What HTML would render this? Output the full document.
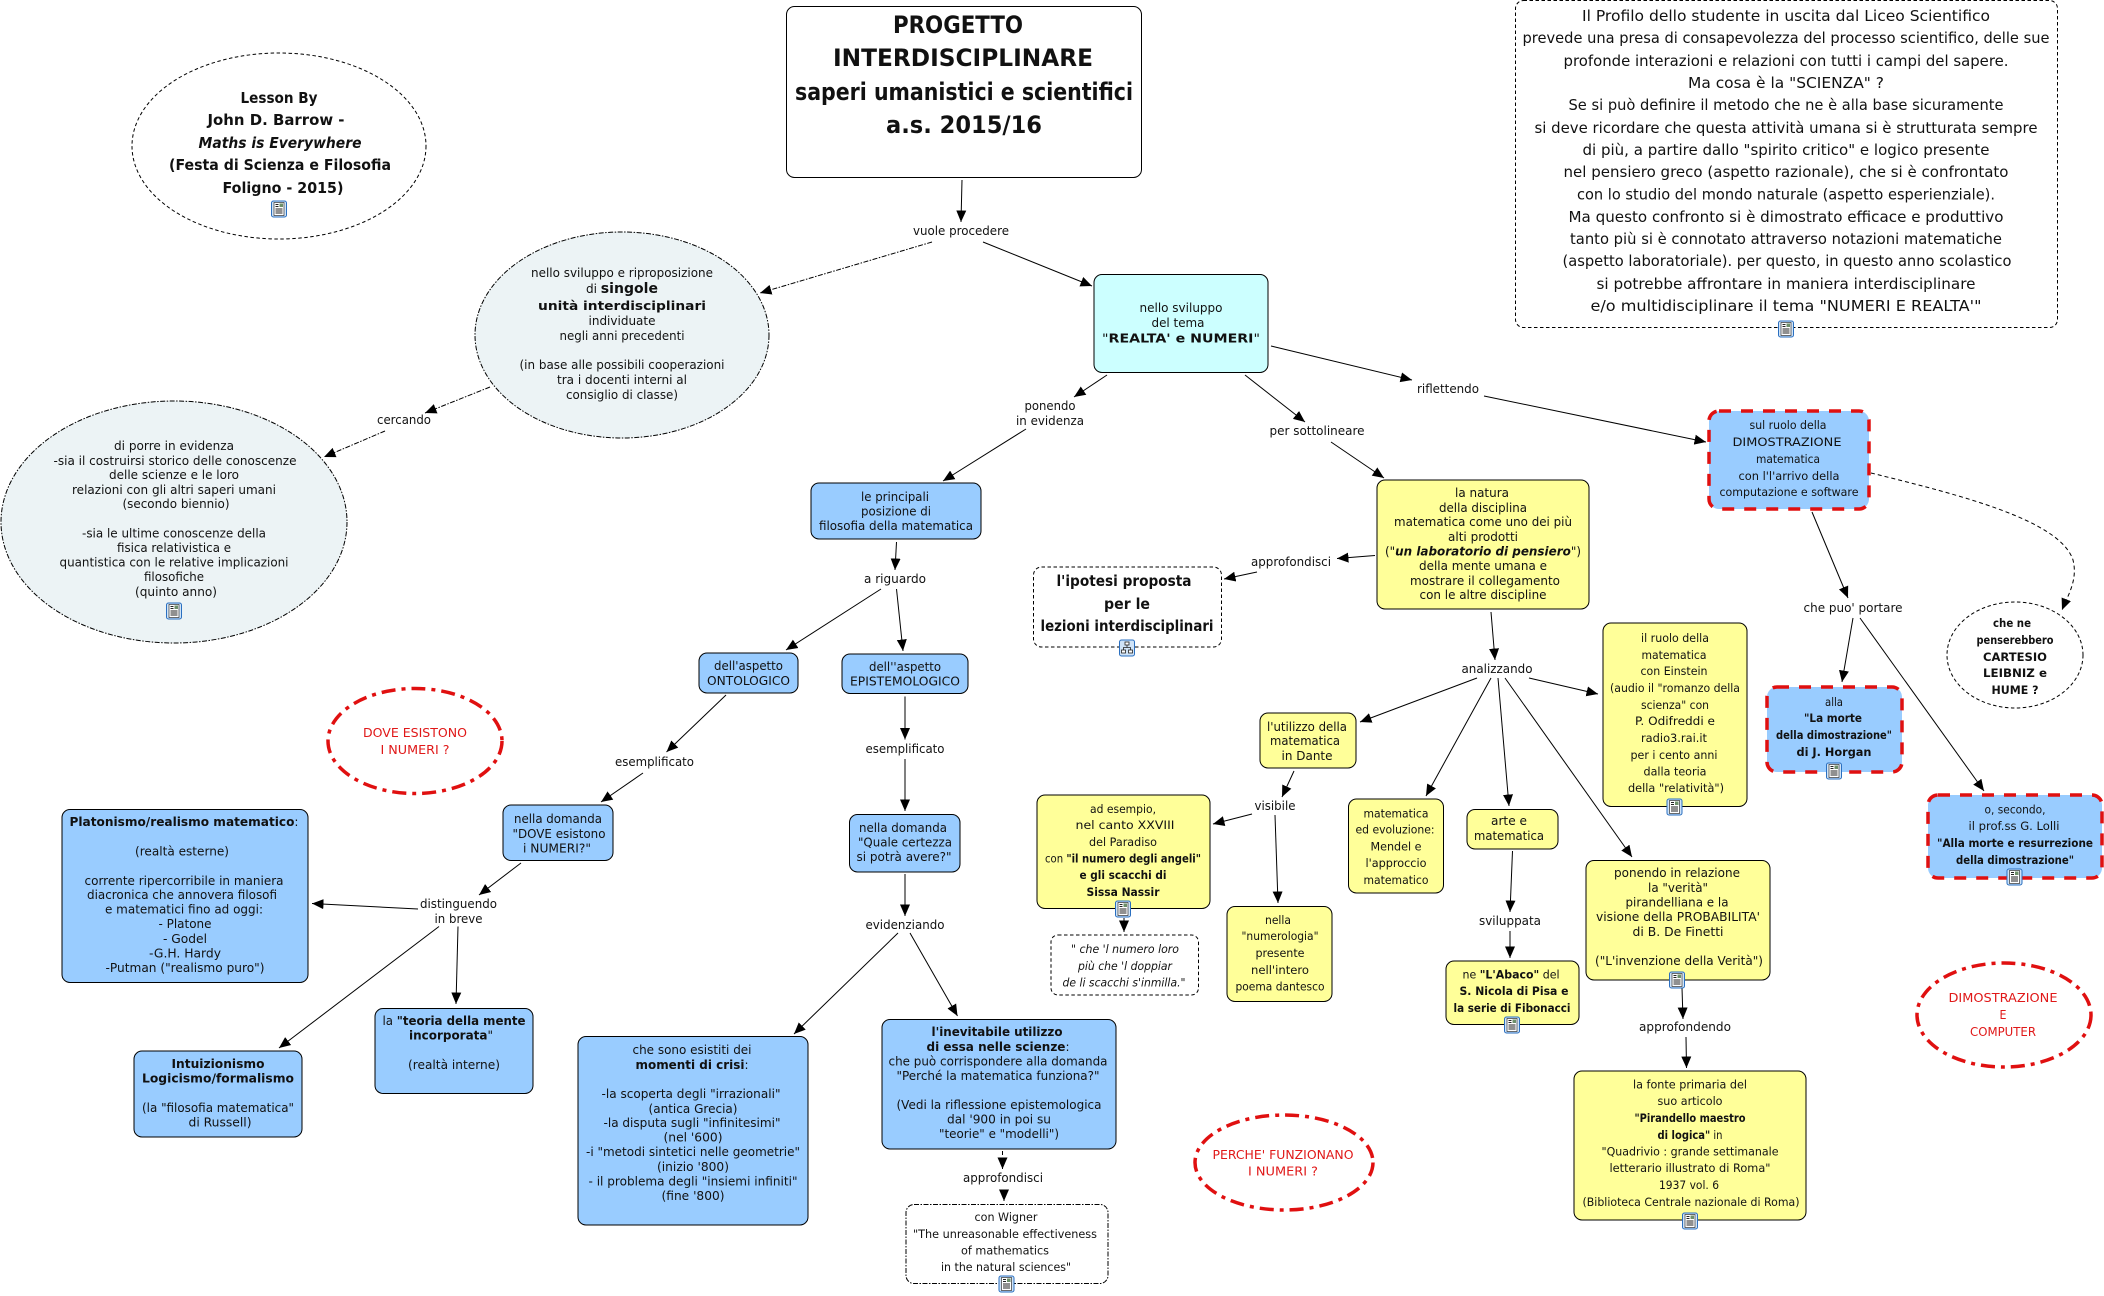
<!DOCTYPE html>
<html lang="it"><head><meta charset="utf-8"><title>Progetto interdisciplinare</title>
<style>
html,body{margin:0;padding:0;background:#fff}
svg{display:block}
text{font-family:"DejaVu Sans","Liberation Sans",sans-serif;text-anchor:middle;fill:#111;font-size:12px}
.n{font-size:15.5px}.t{font-size:24px;font-weight:bold}.l{font-size:15.5px;font-weight:bold}
.c{font-size:11.5px}
.r text,text.r{fill:#e01818;font-size:12px}
.b{font-weight:bold}
.box{stroke:#000;stroke-width:1}
.bl{fill:#99CCFF}.ye{fill:#FFFF99}.cy{fill:#CCFFFF}.wh{fill:#fff}
.dash{fill:#fff;stroke:#000;stroke-width:1;stroke-dasharray:3.5 2.5}
.dd{stroke:#000;stroke-width:1;stroke-dasharray:5 1.5 1.5 1.5}
.rd{stroke:#e01010;stroke-width:3.5;stroke-dasharray:12 10;fill:#99CCFF}
.ro{stroke:#e01010;stroke-width:3.5;stroke-dasharray:14 6 4 6;fill:#fff}
.a{stroke:#000;stroke-width:1;fill:none;marker-end:url(#m)}
.ad{stroke:#000;stroke-width:1;fill:none;marker-end:url(#m);stroke-dasharray:4 3}
.add{stroke:#000;stroke-width:1;fill:none;marker-end:url(#m);stroke-dasharray:5 1.5 1.5 1.5}
</style></head><body>
<svg xmlns="http://www.w3.org/2000/svg" width="2104" height="1296" viewBox="0 0 2104 1296">
<defs>
<marker id="m" markerUnits="userSpaceOnUse" markerWidth="12" markerHeight="12" viewBox="0 0 12 12" refX="11.500" refY="6" orient="auto"><path d="M0,1L11.500,6L0,11z" fill="#000"/></marker>
<g id="i"><rect x="1" y="0.5" width="15" height="16" rx="2" fill="#cfe3f7" stroke="#2a6fc0"/><rect x="3.5" y="2" width="10" height="13" fill="#fff" stroke="#333" stroke-width=".7"/><rect x="9" y="3" width="3.5" height="3.5" fill="#6d8f6a"/><path d="M5 4h3M5 6h3M5 8.500h7M5 10.500h7M5 12.500h7" stroke="#222" stroke-width=".9"/></g>
<g id="j"><rect x="1" y="0.5" width="15" height="16" rx="2" fill="#cfe3f7" stroke="#2a6fc0"/><rect x="6.500" y="2.500" width="4" height="3" fill="#fff" stroke="#222" stroke-width=".8"/><rect x="3" y="10.500" width="4" height="3" fill="#fff" stroke="#222" stroke-width=".8"/><rect x="10" y="10.500" width="4" height="3" fill="#fff" stroke="#222" stroke-width=".8"/><path d="M8.500 5.500V8M5 10.500V8H12V10.500" stroke="#222" stroke-width=".8" fill="none"/></g>
</defs>

<!-- connectors -->
<path class="a" d="M962 180L961 222"/>
<path class="a" d="M983 242L1092 286"/>
<path class="add" d="M932 242L760 293"/>
<path class="add" d="M490 387L425 413"/>
<path class="add" d="M385 431L324 457"/>
<path class="a" d="M1107 375L1074 397"/>
<path class="a" d="M1026 429L943 481"/>
<path class="a" d="M1245 375L1305 422"/>
<path class="a" d="M1331 442L1384 478"/>
<path class="a" d="M1271 346L1412 380"/>
<path class="a" d="M1484 396L1706 442"/>
<path class="a" d="M1375 555.500L1337 558.500"/>
<path class="a" d="M1257 572L1224 579"/>
<path class="a" d="M1491 612L1495 660"/>
<path class="a" d="M1477 678L1360 722"/>
<path class="a" d="M1491 678L1426 796"/>
<path class="a" d="M1498 678L1509 806"/>
<path class="a" d="M1505 678L1632 857"/>
<path class="a" d="M1529 678L1598 694"/>
<path class="a" d="M1294 771L1282 797"/>
<path class="a" d="M1252 814L1213 824"/>
<path class="a" d="M1275 815L1278 903"/>
<path class="a" d="M1124 918L1124 932"/>
<path class="a" d="M1512.500 851L1510 912"/>
<path class="a" d="M1510 931L1510 958"/>
<path class="a" d="M1682 988L1683 1019"/>
<path class="a" d="M1686 1037L1686.500 1068"/>
<path class="a" d="M1812 512L1848 598"/>
<path class="a" d="M1853 618L1842 682"/>
<path class="a" d="M1860 618L1984 791"/>
<path class="ad" d="M1871 473C1960 495 2060 520 2073 560C2078 580 2068 595 2062 610"/>
<path class="a" d="M896.500 542L895 570"/>
<path class="a" d="M881 589L786 650"/>
<path class="a" d="M896.500 589L903 651"/>
<path class="a" d="M726 695L666.500 752"/>
<path class="a" d="M643 773L601 802"/>
<path class="a" d="M905 696.500L905 739.500"/>
<path class="a" d="M905 759L905 811"/>
<path class="a" d="M521 863L479 895"/>
<path class="a" d="M418 909L312 903.500"/>
<path class="a" d="M439 926.500L279 1048"/>
<path class="a" d="M458 926.500L456 1004"/>
<path class="a" d="M905 874L905 916"/>
<path class="a" d="M898 933L794 1034"/>
<path class="a" d="M910 933L957.500 1016"/>
<path class="ad" d="M1002.500 1151L1002.500 1169"/>
<path class="a" d="M1004 1190L1004 1201"/>

<!-- shapes -->
<rect class="box wh" x="786.500" y="6.500" width="355" height="171" rx="8"/>
<ellipse class="dash" cx="279" cy="146" rx="147" ry="93"/>
<ellipse class="dd" fill="#ECF3F5" cx="622" cy="335" rx="147" ry="103"/>
<ellipse class="dd" fill="#ECF3F5" cx="174" cy="522" rx="173" ry="121"/>
<rect class="box cy" x="1094" y="274.500" width="174" height="98" rx="8"/>
<rect class="dash" x="1515.500" y="0.500" width="542" height="327" rx="8"/>
<rect class="box ye" x="1377" y="480" width="212" height="129" rx="8"/>
<rect class="dash" x="1033.500" y="567" width="188" height="80" rx="8"/>
<rect class="box ye" x="1603" y="623" width="144" height="183.500" rx="8"/>
<rect class="box ye" x="1260" y="713" width="96" height="55" rx="8"/>
<rect class="box ye" x="1037" y="795" width="173" height="113.500" rx="8"/>
<rect class="dash" x="1051" y="935" width="147.500" height="60" rx="7"/>
<rect class="box ye" x="1227" y="906.500" width="105" height="95" rx="8"/>
<rect class="box ye" x="1348.500" y="799" width="95" height="94" rx="8"/>
<rect class="box ye" x="1467" y="809.500" width="91" height="39.500" rx="8"/>
<rect class="box ye" x="1446" y="961" width="133" height="63.500" rx="8"/>
<rect class="box ye" x="1586" y="860.500" width="184" height="119.500" rx="8"/>
<rect class="box ye" x="1574" y="1071" width="232" height="149" rx="8"/>
<rect class="rd" x="1709" y="411" width="160" height="98" rx="10"/>
<ellipse class="dash" cx="2015" cy="655" rx="68" ry="53"/>
<rect class="rd" x="1767" y="687" width="135" height="85" rx="10"/>
<rect class="rd" x="1928" y="795" width="174" height="83" rx="10"/>
<ellipse class="ro" cx="2004" cy="1015" rx="87" ry="52"/>
<ellipse class="ro" cx="1284" cy="1162.500" rx="89" ry="47.500"/>
<ellipse class="ro" cx="415" cy="741" rx="87" ry="52.500"/>
<rect class="box bl" x="811" y="483" width="170" height="56" rx="8"/>
<rect class="box bl" x="699" y="653" width="99" height="40" rx="8"/>
<rect class="box bl" x="842" y="654" width="126" height="39.500" rx="8"/>
<rect class="box bl" x="503" y="805" width="110" height="55.500" rx="8"/>
<rect class="box bl" x="62" y="809.500" width="246" height="173" rx="8"/>
<rect class="box bl" x="134" y="1051" width="168" height="86" rx="8"/>
<rect class="box bl" x="375" y="1008.500" width="158" height="85" rx="8"/>
<rect class="box bl" x="849.500" y="814.500" width="110.500" height="57.500" rx="8"/>
<rect class="box bl" x="578" y="1036.500" width="230" height="188.500" rx="8"/>
<rect class="box bl" x="882" y="1019.500" width="234" height="129.500" rx="8"/>
<rect class="dd" fill="#fff" x="906" y="1204.500" width="202" height="79" rx="8"/>

<!-- title -->
<g class="t">
<text class="t" x="958" y="33" textLength="130" lengthAdjust="spacingAndGlyphs">PROGETTO</text>
<text class="t" x="963" y="66" textLength="260" lengthAdjust="spacingAndGlyphs">INTERDISCIPLINARE</text>
<text class="t" x="964" y="100" textLength="338" lengthAdjust="spacingAndGlyphs">saperi umanistici e scientifici</text>
<text class="t" x="964" y="133" textLength="156" lengthAdjust="spacingAndGlyphs">a.s. 2015/16</text>
</g>

<!-- Lesson -->
<text class="l" x="279" y="103" textLength="77" lengthAdjust="spacingAndGlyphs">Lesson By</text>
<text class="l" x="276" y="125" textLength="137" lengthAdjust="spacingAndGlyphs">John D. Barrow -</text>
<text class="l" x="280" y="148" textLength="163" lengthAdjust="spacingAndGlyphs" font-style="italic">Maths is Everywhere</text>
<text class="l" x="280" y="170" textLength="222" lengthAdjust="spacingAndGlyphs">(Festa di Scienza e Filosofia</text>
<text class="l" x="283" y="193" textLength="121" lengthAdjust="spacingAndGlyphs">Foligno - 2015)</text>

<!-- circle 2 -->
<text x="622" y="277" textLength="182" lengthAdjust="spacingAndGlyphs">nello sviluppo e riproposizione</text>
<text x="622" y="293" textLength="72" lengthAdjust="spacingAndGlyphs">di <tspan class="b" font-size="14">singole</tspan></text>
<text class="b" x="622" y="310" textLength="168" lengthAdjust="spacingAndGlyphs" font-size="14">unità interdisciplinari</text>
<text x="622" y="325" textLength="67" lengthAdjust="spacingAndGlyphs">individuate</text>
<text x="622" y="340" textLength="125" lengthAdjust="spacingAndGlyphs">negli anni precedenti</text>
<text x="622" y="369" textLength="205" lengthAdjust="spacingAndGlyphs">(in base alle possibili cooperazioni</text>
<text x="622" y="384" textLength="130" lengthAdjust="spacingAndGlyphs">tra i docenti interni al</text>
<text x="622" y="399" textLength="112" lengthAdjust="spacingAndGlyphs">consiglio di classe)</text>

<!-- circle 3 -->
<text x="174" y="450" textLength="120" lengthAdjust="spacingAndGlyphs">di porre in evidenza</text>
<text x="175" y="465" textLength="243" lengthAdjust="spacingAndGlyphs">-sia il costruirsi storico delle conoscenze</text>
<text x="174" y="479" textLength="130" lengthAdjust="spacingAndGlyphs">delle scienze e le loro</text>
<text x="174" y="494" textLength="204" lengthAdjust="spacingAndGlyphs">relazioni con gli altri saperi umani</text>
<text x="176" y="508" textLength="107" lengthAdjust="spacingAndGlyphs">(secondo biennio)</text>
<text x="174" y="537.500" textLength="184" lengthAdjust="spacingAndGlyphs">-sia le ultime conoscenze della</text>
<text x="174" y="552" textLength="114" lengthAdjust="spacingAndGlyphs">fisica relativistica e</text>
<text x="174" y="566.500" textLength="229" lengthAdjust="spacingAndGlyphs">quantistica con le relative implicazioni</text>
<text x="174" y="581" textLength="60" lengthAdjust="spacingAndGlyphs">filosofiche</text>
<text x="176" y="596" textLength="82" lengthAdjust="spacingAndGlyphs">(quinto anno)</text>

<!-- linking labels -->
<text x="404" y="424" textLength="54" lengthAdjust="spacingAndGlyphs">cercando</text>
<text x="961" y="235" textLength="96" lengthAdjust="spacingAndGlyphs">vuole procedere</text>
<text x="1050" y="410" textLength="51" lengthAdjust="spacingAndGlyphs">ponendo</text>
<text x="1050" y="425" textLength="68" lengthAdjust="spacingAndGlyphs">in evidenza</text>
<text x="1317" y="435" textLength="95" lengthAdjust="spacingAndGlyphs">per sottolineare</text>
<text x="1448" y="393" textLength="62" lengthAdjust="spacingAndGlyphs">riflettendo</text>
<text x="1291" y="566" textLength="80" lengthAdjust="spacingAndGlyphs">approfondisci</text>
<text x="1497" y="673" textLength="71" lengthAdjust="spacingAndGlyphs">analizzando</text>
<text x="1275" y="810" textLength="41" lengthAdjust="spacingAndGlyphs">visibile</text>
<text x="1510" y="925" textLength="62" lengthAdjust="spacingAndGlyphs">sviluppata</text>
<text x="1685" y="1031" textLength="92" lengthAdjust="spacingAndGlyphs">approfondendo</text>
<text x="1853" y="612" textLength="99" lengthAdjust="spacingAndGlyphs">che puo' portare</text>
<text x="895" y="583" textLength="62" lengthAdjust="spacingAndGlyphs">a riguardo</text>
<text x="654.500" y="766" textLength="79" lengthAdjust="spacingAndGlyphs">esemplificato</text>
<text x="905" y="753" textLength="79" lengthAdjust="spacingAndGlyphs">esemplificato</text>
<text x="458.500" y="908" textLength="77" lengthAdjust="spacingAndGlyphs">distinguendo</text>
<text x="458.500" y="923" textLength="48" lengthAdjust="spacingAndGlyphs">in breve</text>
<text x="905" y="929" textLength="79" lengthAdjust="spacingAndGlyphs">evidenziando</text>
<text x="1003" y="1182" textLength="80" lengthAdjust="spacingAndGlyphs">approfondisci</text>

<!-- REALTA -->
<text x="1181" y="312" textLength="83" lengthAdjust="spacingAndGlyphs">nello sviluppo</text>
<text x="1178" y="327" textLength="53" lengthAdjust="spacingAndGlyphs">del tema</text>
<text x="1181" y="342.500" textLength="158" lengthAdjust="spacingAndGlyphs" font-size="13">"<tspan class="b">REALTA' e NUMERI</tspan>"</text>

<!-- note -->
<g class="n">
<text class="n" x="1786" y="21" textLength="408" lengthAdjust="spacingAndGlyphs">Il Profilo dello studente  in uscita dal Liceo Scientifico</text>
<text class="n" x="1786" y="43" textLength="527" lengthAdjust="spacingAndGlyphs">prevede una presa di consapevolezza del processo scientifico, delle sue</text>
<text class="n" x="1786" y="66" textLength="445" lengthAdjust="spacingAndGlyphs">profonde interazioni e relazioni con tutti i campi del sapere.</text>
<text class="n" x="1786" y="88" textLength="196" lengthAdjust="spacingAndGlyphs">Ma cosa è la "SCIENZA" ?</text>
<text class="n" x="1786" y="110" textLength="435" lengthAdjust="spacingAndGlyphs">Se si può definire il metodo che ne è alla base sicuramente</text>
<text class="n" x="1786" y="133" textLength="503" lengthAdjust="spacingAndGlyphs">si deve ricordare che questa attività umana si è strutturata sempre</text>
<text class="n" x="1786" y="155" textLength="407" lengthAdjust="spacingAndGlyphs">di più, a partire dallo "spirito critico" e logico presente</text>
<text class="n" x="1786" y="177" textLength="445" lengthAdjust="spacingAndGlyphs">nel pensiero greco (aspetto razionale),  che si è confrontato</text>
<text class="n" x="1786" y="199.500" textLength="418" lengthAdjust="spacingAndGlyphs">con lo studio del mondo naturale (aspetto esperienziale).</text>
<text class="n" x="1786" y="222" textLength="435" lengthAdjust="spacingAndGlyphs">Ma questo confronto si è dimostrato efficace e produttivo</text>
<text class="n" x="1786" y="244" textLength="432" lengthAdjust="spacingAndGlyphs">tanto più si è connotato attraverso notazioni matematiche</text>
<text class="n" x="1787" y="266" textLength="449" lengthAdjust="spacingAndGlyphs">(aspetto laboratoriale). per questo, in questo anno scolastico</text>
<text class="n" x="1786" y="289" textLength="379" lengthAdjust="spacingAndGlyphs">si potrebbe affrontare in maniera interdisciplinare</text>
<text class="n" x="1786" y="311" textLength="391" lengthAdjust="spacingAndGlyphs">e/o multidisciplinare il tema   "NUMERI E REALTA'"</text>
</g>

<!-- natura -->
<text x="1482" y="497" textLength="54" lengthAdjust="spacingAndGlyphs">la natura</text>
<text x="1483" y="512" textLength="88" lengthAdjust="spacingAndGlyphs">della disciplina</text>
<text x="1483" y="526" textLength="178" lengthAdjust="spacingAndGlyphs">matematica come uno dei più</text>
<text x="1483" y="541" textLength="70" lengthAdjust="spacingAndGlyphs">alti prodotti</text>
<text x="1483" y="555.500" textLength="196" lengthAdjust="spacingAndGlyphs">("<tspan class="b" font-style="italic">un laboratorio di pensiero</tspan>")</text>
<text x="1483" y="570" textLength="128" lengthAdjust="spacingAndGlyphs">della mente umana e</text>
<text x="1485" y="585" textLength="150" lengthAdjust="spacingAndGlyphs">mostrare il collegamento</text>
<text x="1483" y="599" textLength="127" lengthAdjust="spacingAndGlyphs">con le altre discipline</text>

<!-- ipotesi -->
<text class="l" x="1124" y="586" textLength="135" lengthAdjust="spacingAndGlyphs">l'ipotesi proposta</text>
<text class="l" x="1127" y="609" textLength="46" lengthAdjust="spacingAndGlyphs">per le</text>
<text class="l" x="1127" y="631" textLength="173" lengthAdjust="spacingAndGlyphs">lezioni interdisciplinari</text>

<!-- il ruolo -->
<g>
<text class="c" x="1675" y="642" textLength="68" lengthAdjust="spacingAndGlyphs">il ruolo della</text>
<text class="c" x="1674" y="659" textLength="65" lengthAdjust="spacingAndGlyphs">matematica</text>
<text class="c" x="1674" y="675" textLength="67" lengthAdjust="spacingAndGlyphs">con Einstein</text>
<text class="c" x="1675" y="692" textLength="130" lengthAdjust="spacingAndGlyphs">(audio il "romanzo della</text>
<text class="c" x="1675" y="709" textLength="68" lengthAdjust="spacingAndGlyphs">scienza" con</text>
<text class="c" x="1675" y="725" textLength="80" lengthAdjust="spacingAndGlyphs">P. Odifreddi e</text>
<text class="c" x="1674" y="742" textLength="66" lengthAdjust="spacingAndGlyphs">radio3.rai.it</text>
<text class="c" x="1674" y="759" textLength="87" lengthAdjust="spacingAndGlyphs">per i cento anni</text>
<text class="c" x="1675" y="775.500" textLength="63" lengthAdjust="spacingAndGlyphs">dalla teoria</text>
<text class="c" x="1676" y="792" textLength="96" lengthAdjust="spacingAndGlyphs">della "relatività")</text>
</g>

<!-- Dante -->
<text x="1307" y="731" textLength="80" lengthAdjust="spacingAndGlyphs">l'utilizzo della</text>
<text x="1305" y="745" textLength="70" lengthAdjust="spacingAndGlyphs">matematica</text>
<text x="1307" y="760" textLength="51" lengthAdjust="spacingAndGlyphs">in Dante</text>

<!-- ad esempio -->
<text class="c" x="1123" y="813" textLength="66" lengthAdjust="spacingAndGlyphs">ad esempio,</text>
<text class="c" x="1125" y="829" textLength="99" lengthAdjust="spacingAndGlyphs">nel canto XXVIII</text>
<text class="c" x="1123" y="846" textLength="68" lengthAdjust="spacingAndGlyphs">del Paradiso</text>
<text class="c" x="1123" y="862.500" textLength="156" lengthAdjust="spacingAndGlyphs">con <tspan class="b">"il numero degli angeli"</tspan></text>
<text class="c b" x="1123" y="879" textLength="87" lengthAdjust="spacingAndGlyphs">e gli scacchi di</text>
<text class="c b" x="1123" y="896" textLength="73" lengthAdjust="spacingAndGlyphs">Sissa Nassir</text>

<!-- che l numero -->
<text class="c" x="1125" y="953" textLength="108" lengthAdjust="spacingAndGlyphs" font-style="italic">" che 'l numero loro</text>
<text class="c" x="1125" y="970" textLength="94" lengthAdjust="spacingAndGlyphs" font-style="italic">più che 'l doppiar</text>
<text class="c" x="1124" y="986.500" textLength="123" lengthAdjust="spacingAndGlyphs" font-style="italic">de li scacchi s'inmilla."</text>

<!-- numerologia -->
<text class="c" x="1278" y="924" textLength="26" lengthAdjust="spacingAndGlyphs">nella</text>
<text class="c" x="1280" y="940" textLength="77" lengthAdjust="spacingAndGlyphs">"numerologia"</text>
<text class="c" x="1280" y="957" textLength="49" lengthAdjust="spacingAndGlyphs">presente</text>
<text class="c" x="1280" y="974" textLength="58" lengthAdjust="spacingAndGlyphs">nell'intero</text>
<text class="c" x="1280" y="990.500" textLength="89" lengthAdjust="spacingAndGlyphs">poema dantesco</text>

<!-- matematica ed -->
<text class="c" x="1396" y="817.500" textLength="65" lengthAdjust="spacingAndGlyphs">matematica</text>
<text class="c" x="1395" y="833.500" textLength="79" lengthAdjust="spacingAndGlyphs">ed evoluzione:</text>
<text class="c" x="1396" y="850.500" textLength="51" lengthAdjust="spacingAndGlyphs">Mendel e</text>
<text class="c" x="1396" y="867" textLength="61" lengthAdjust="spacingAndGlyphs">l'approccio</text>
<text class="c" x="1396" y="884" textLength="65" lengthAdjust="spacingAndGlyphs">matematico</text>

<!-- arte -->
<text x="1509" y="825" textLength="36" lengthAdjust="spacingAndGlyphs">arte e</text>
<text x="1509" y="840" textLength="70" lengthAdjust="spacingAndGlyphs">matematica</text>

<!-- abaco -->
<text class="c" x="1511" y="978.500" textLength="97" lengthAdjust="spacingAndGlyphs">ne <tspan class="b">"L'Abaco"</tspan> del</text>
<text class="c b" x="1514" y="995" textLength="109" lengthAdjust="spacingAndGlyphs">S. Nicola di Pisa e</text>
<text class="c b" x="1512" y="1012" textLength="117" lengthAdjust="spacingAndGlyphs">la serie di Fibonacci</text>

<!-- ponendo -->
<text x="1677" y="877" textLength="126" lengthAdjust="spacingAndGlyphs">ponendo in relazione</text>
<text x="1678" y="892" textLength="60" lengthAdjust="spacingAndGlyphs">la "verità"</text>
<text x="1677" y="906.500" textLength="103" lengthAdjust="spacingAndGlyphs">pirandelliana e la</text>
<text x="1678" y="921" textLength="164" lengthAdjust="spacingAndGlyphs">visione della PROBABILITA'</text>
<text x="1678" y="936" textLength="91" lengthAdjust="spacingAndGlyphs">di B. De Finetti</text>
<text x="1679" y="965" textLength="168" lengthAdjust="spacingAndGlyphs">("L'invenzione della Verità")</text>

<!-- fonte -->
<text class="c" x="1690" y="1088.500" textLength="114" lengthAdjust="spacingAndGlyphs">la fonte primaria del</text>
<text class="c" x="1690" y="1105" textLength="65" lengthAdjust="spacingAndGlyphs">suo articolo</text>
<text class="c b" x="1690" y="1122" textLength="111" lengthAdjust="spacingAndGlyphs">"Pirandello maestro</text>
<text class="c" x="1690" y="1139" textLength="65" lengthAdjust="spacingAndGlyphs"><tspan class="b">di logica"</tspan> in</text>
<text class="c" x="1690" y="1155.500" textLength="177" lengthAdjust="spacingAndGlyphs">"Quadrivio : grande settimanale</text>
<text class="c" x="1690" y="1172" textLength="161" lengthAdjust="spacingAndGlyphs">letterario illustrato di Roma"</text>
<text class="c" x="1689" y="1189" textLength="60" lengthAdjust="spacingAndGlyphs">1937 vol. 6</text>
<text class="c" x="1691" y="1206" textLength="217" lengthAdjust="spacingAndGlyphs">(Biblioteca Centrale nazionale di Roma)</text>

<!-- dimostrazione -->
<text class="c" x="1788" y="429" textLength="77" lengthAdjust="spacingAndGlyphs">sul ruolo della</text>
<text class="c" x="1787" y="446" textLength="109" lengthAdjust="spacingAndGlyphs">DIMOSTRAZIONE</text>
<text class="c" x="1788" y="463" textLength="64" lengthAdjust="spacingAndGlyphs">matematica</text>
<text class="c" x="1789" y="480" textLength="101" lengthAdjust="spacingAndGlyphs">con l'l'arrivo della</text>
<text class="c" x="1789" y="496" textLength="139" lengthAdjust="spacingAndGlyphs">computazione e software</text>

<!-- che ne -->
<text class="c b" x="2012" y="627" textLength="38" lengthAdjust="spacingAndGlyphs">che ne</text>
<text class="c b" x="2015" y="644" textLength="77" lengthAdjust="spacingAndGlyphs">penserebbero</text>
<text class="c b" x="2015" y="661" textLength="64" lengthAdjust="spacingAndGlyphs">CARTESIO</text>
<text class="c b" x="2015" y="677" textLength="64" lengthAdjust="spacingAndGlyphs">LEIBNIZ e</text>
<text class="c b" x="2015" y="694" textLength="47" lengthAdjust="spacingAndGlyphs">HUME ?</text>

<!-- alla -->
<text class="c" x="1834" y="706" textLength="18" lengthAdjust="spacingAndGlyphs">alla</text>
<text class="c b" x="1833" y="722" textLength="58" lengthAdjust="spacingAndGlyphs">"La morte</text>
<text class="c b" x="1834" y="739" textLength="116" lengthAdjust="spacingAndGlyphs">della dimostrazione"</text>
<text class="c b" x="1834" y="756" textLength="75" lengthAdjust="spacingAndGlyphs">di J. Horgan</text>

<!-- secondo -->
<text class="c" x="2015" y="813.500" textLength="61" lengthAdjust="spacingAndGlyphs">o, secondo,</text>
<text class="c" x="2014" y="830" textLength="91" lengthAdjust="spacingAndGlyphs">il prof.ss G. Lolli</text>
<text class="c b" x="2015" y="847" textLength="156" lengthAdjust="spacingAndGlyphs">"Alla morte e resurrezione</text>
<text class="c b" x="2015" y="864" textLength="118" lengthAdjust="spacingAndGlyphs">della dimostrazione"</text>

<!-- red ovals -->
<text class="r" x="2003" y="1002" textLength="109" lengthAdjust="spacingAndGlyphs">DIMOSTRAZIONE</text>
<text class="r" x="2003" y="1019" textLength="7" lengthAdjust="spacingAndGlyphs">E</text>
<text class="r" x="2003" y="1036" textLength="66" lengthAdjust="spacingAndGlyphs">COMPUTER</text>
<text class="r" x="1283" y="1159" textLength="141" lengthAdjust="spacingAndGlyphs">PERCHE' FUNZIONANO</text>
<text class="r" x="1283" y="1175.500" textLength="70" lengthAdjust="spacingAndGlyphs">I NUMERI ?</text>
<text class="r" x="415" y="737" textLength="104" lengthAdjust="spacingAndGlyphs">DOVE ESISTONO</text>
<text class="r" x="415" y="754" textLength="69" lengthAdjust="spacingAndGlyphs">I NUMERI ?</text>

<!-- le principali -->
<text x="895" y="501" textLength="68" lengthAdjust="spacingAndGlyphs">le principali</text>
<text x="896" y="515.500" textLength="70" lengthAdjust="spacingAndGlyphs">posizione di</text>
<text x="896" y="530" textLength="154" lengthAdjust="spacingAndGlyphs">filosofia della matematica</text>

<text x="748.500" y="670" textLength="69" lengthAdjust="spacingAndGlyphs">dell'aspetto</text>
<text x="748.500" y="685" textLength="83" lengthAdjust="spacingAndGlyphs">ONTOLOGICO</text>
<text x="905" y="671" textLength="72" lengthAdjust="spacingAndGlyphs">dell''aspetto</text>
<text x="905" y="685.500" textLength="110" lengthAdjust="spacingAndGlyphs">EPISTEMOLOGICO</text>

<text x="558" y="823" textLength="88" lengthAdjust="spacingAndGlyphs">nella domanda</text>
<text x="559" y="838" textLength="93" lengthAdjust="spacingAndGlyphs">"DOVE esistono</text>
<text x="557" y="852.500" textLength="68" lengthAdjust="spacingAndGlyphs">i NUMERI?"</text>

<text class="b" x="184" y="826" textLength="229" lengthAdjust="spacingAndGlyphs">Platonismo/realismo matematico<tspan font-weight="normal">:</tspan></text>
<text x="182" y="855.500" textLength="94" lengthAdjust="spacingAndGlyphs">(realtà esterne)</text>
<text x="184" y="885" textLength="199" lengthAdjust="spacingAndGlyphs">corrente ripercorribile in maniera</text>
<text x="182" y="899" textLength="190" lengthAdjust="spacingAndGlyphs">diacronica che annovera filosofi</text>
<text x="184" y="913.500" textLength="158" lengthAdjust="spacingAndGlyphs">e matematici fino ad oggi:</text>
<text x="185" y="928" textLength="53" lengthAdjust="spacingAndGlyphs">- Platone</text>
<text x="185" y="943" textLength="44" lengthAdjust="spacingAndGlyphs">- Godel</text>
<text x="185" y="957.500" textLength="72" lengthAdjust="spacingAndGlyphs">-G.H. Hardy</text>
<text x="185" y="972" textLength="159" lengthAdjust="spacingAndGlyphs">-Putman ("realismo puro")</text>

<text class="b" x="218" y="1068" textLength="93" lengthAdjust="spacingAndGlyphs">Intuizionismo</text>
<text class="b" x="218" y="1082.500" textLength="152" lengthAdjust="spacingAndGlyphs">Logicismo/formalismo</text>
<text x="218" y="1112" textLength="152" lengthAdjust="spacingAndGlyphs">(la "filosofia matematica"</text>
<text x="220" y="1126.500" textLength="63" lengthAdjust="spacingAndGlyphs">di Russell)</text>

<text x="454" y="1025" textLength="143" lengthAdjust="spacingAndGlyphs">la <tspan class="b">"teoria della mente</tspan></text>
<text x="451" y="1039.500" textLength="84" lengthAdjust="spacingAndGlyphs"><tspan class="b">incorporata</tspan>"</text>
<text x="454" y="1069" textLength="92" lengthAdjust="spacingAndGlyphs">(realtà interne)</text>

<text x="903" y="832" textLength="88" lengthAdjust="spacingAndGlyphs">nella domanda</text>
<text x="905" y="846.500" textLength="94" lengthAdjust="spacingAndGlyphs">"Quale certezza</text>
<text x="904" y="861" textLength="95" lengthAdjust="spacingAndGlyphs">si potrà avere?"</text>

<text x="692" y="1054" textLength="119" lengthAdjust="spacingAndGlyphs">che sono esistiti dei</text>
<text x="692" y="1069" textLength="113" lengthAdjust="spacingAndGlyphs"><tspan class="b">momenti di crisi</tspan>:</text>
<text x="691" y="1098" textLength="179" lengthAdjust="spacingAndGlyphs">-la scoperta degli "irrazionali"</text>
<text x="693" y="1113" textLength="89" lengthAdjust="spacingAndGlyphs">(antica Grecia)</text>
<text x="692" y="1127" textLength="177" lengthAdjust="spacingAndGlyphs">-la disputa sugli "infinitesimi"</text>
<text x="693" y="1141.500" textLength="59" lengthAdjust="spacingAndGlyphs">(nel '600)</text>
<text x="693" y="1156" textLength="214" lengthAdjust="spacingAndGlyphs">-i "metodi sintetici nelle geometrie"</text>
<text x="693" y="1171" textLength="72" lengthAdjust="spacingAndGlyphs">(inizio '800)</text>
<text x="693" y="1185.500" textLength="209" lengthAdjust="spacingAndGlyphs">- il problema degli "insiemi infiniti"</text>
<text x="693" y="1200" textLength="63" lengthAdjust="spacingAndGlyphs">(fine '800)</text>

<text class="b" x="997" y="1036" textLength="131" lengthAdjust="spacingAndGlyphs">l'inevitabile utilizzo</text>
<text x="998" y="1051" textLength="143" lengthAdjust="spacingAndGlyphs"><tspan class="b">di essa nelle scienze</tspan>:</text>
<text x="998" y="1065.500" textLength="219" lengthAdjust="spacingAndGlyphs">che può corrispondere alla domanda</text>
<text x="998" y="1080" textLength="203" lengthAdjust="spacingAndGlyphs">"Perché la matematica funziona?"</text>
<text x="999" y="1109" textLength="205" lengthAdjust="spacingAndGlyphs">(Vedi la riflessione epistemologica</text>
<text x="999" y="1123.500" textLength="104" lengthAdjust="spacingAndGlyphs">dal '900 in poi su</text>
<text x="999" y="1138" textLength="120" lengthAdjust="spacingAndGlyphs">"teorie" e "modelli")</text>

<text class="c" x="1006" y="1221" textLength="63" lengthAdjust="spacingAndGlyphs">con Wigner</text>
<text class="c" x="1005" y="1238" textLength="184" lengthAdjust="spacingAndGlyphs">"The unreasonable effectiveness</text>
<text class="c" x="1005" y="1254.500" textLength="88" lengthAdjust="spacingAndGlyphs">of mathematics</text>
<text class="c" x="1006" y="1271" textLength="130" lengthAdjust="spacingAndGlyphs">in the natural sciences"</text>

<!-- icons -->
<use href="#i" x="270.500" y="200.500"/>
<use href="#i" x="165.500" y="602.500"/>
<use href="#i" x="1777.500" y="320.500"/>
<use href="#j" x="1118.500" y="639.500"/>
<use href="#i" x="1666" y="798.500"/>
<use href="#i" x="1114.500" y="900.500"/>
<use href="#i" x="1503.500" y="1016.500"/>
<use href="#i" x="1668.500" y="971.500"/>
<use href="#i" x="1681.500" y="1212.500"/>
<use href="#i" x="1825.500" y="762.500"/>
<use href="#i" x="2006" y="868.500"/>
<use href="#i" x="998" y="1275.500"/>
</svg>
</body></html>
